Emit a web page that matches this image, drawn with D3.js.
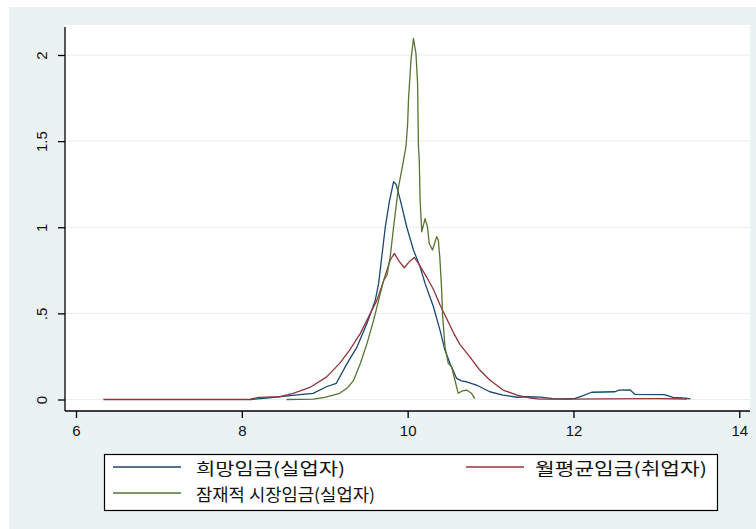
<!DOCTYPE html>
<html>
<head>
<meta charset="utf-8">
<script src="https://cdn.jsdelivr.net/npm/d3@7"></script>
<style>
  html, body { margin: 0; padding: 0; background: #ffffff; }
  svg { display: block; }
  .tick-label { font-family: "Liberation Sans", Arial, sans-serif; font-size: 15px; fill: #111; }
  .legend-label { font-family: "Noto Sans CJK KR", "Noto Sans", sans-serif; font-size: 17px; fill: #111; }
</style>
</head>
<body>
<svg id="chart" width="756" height="529"></svg>
<script>
// Kernel density of log wages, three groups
const seriesNames = ["희망임금(실업자)", "월평균임금(취업자)", "잠재적 시장임금(실업자)"];
const seriesColors = ["#1a476f", "#90353b", "#55752f"];
const labelWidths = [149, 172, 179];

// 희망임금(실업자)
const desiredX = [8.10, 8.30, 8.50, 8.70, 8.86, 9.02, 9.14, 9.27, 9.39, 9.51, 9.61, 9.65, 9.73, 9.78, 9.83,
  9.86, 9.91, 9.99, 10.07, 10.15, 10.21, 10.31, 10.39, 10.45, 10.51, 10.59, 10.65, 10.71, 10.83, 10.99,
  11.15, 11.32, 11.45, 11.60, 11.75, 11.90, 12.02, 12.10, 12.22, 12.50, 12.55, 12.68, 12.74, 13.10,
  13.20, 13.35, 13.41];
const desiredY = [0.000, 0.008, 0.018, 0.028, 0.036, 0.074, 0.094, 0.210, 0.306, 0.442, 0.577, 0.674, 1.000, 1.150, 1.264,
  1.250, 1.160, 1.000, 0.868, 0.770, 0.674, 0.540, 0.403, 0.287, 0.210, 0.123, 0.108, 0.103, 0.084, 0.045,
  0.026, 0.013, 0.016, 0.014, 0.005, 0.003, 0.007, 0.020, 0.042, 0.045, 0.055, 0.056, 0.030, 0.028,
  0.012, 0.008, 0.004];

// 월평균임금(취업자)
const earnedX = [6.33, 8.10, 8.20, 8.46, 8.62, 8.82, 9.02, 9.18, 9.30, 9.43, 9.55, 9.63, 9.71, 9.79, 9.84,
  9.90, 9.96, 10.02, 10.08, 10.13, 10.23, 10.31, 10.39, 10.47, 10.55, 10.63, 10.75, 10.87, 10.99, 11.15,
  11.32, 11.48, 11.60, 12.00, 12.30, 13.00, 13.37];
const earnedY = [0.000, 0.000, 0.012, 0.016, 0.036, 0.070, 0.130, 0.210, 0.287, 0.384, 0.500, 0.577, 0.690, 0.810, 0.848,
  0.800, 0.765, 0.800, 0.825, 0.790, 0.710, 0.640, 0.550, 0.470, 0.390, 0.320, 0.248, 0.171, 0.113, 0.055,
  0.026, 0.008, 0.002, 0.002, 0.004, 0.005, 0.003];

// 잠재적 시장임금(실업자)
const marketX = [8.54, 8.86, 9.00, 9.18, 9.28, 9.35, 9.43, 9.51, 9.59, 9.65, 9.71, 9.75, 9.79, 9.83, 9.89,
  9.94, 9.98, 10.00, 10.01, 10.04, 10.07, 10.10, 10.12, 10.13, 10.14, 10.15, 10.17, 10.21, 10.24, 10.26,
  10.30, 10.35, 10.37, 10.39, 10.41, 10.42, 10.45, 10.49, 10.53, 10.57, 10.61, 10.66, 10.71, 10.77, 10.81];
const marketY = [0.000, 0.002, 0.012, 0.036, 0.070, 0.113, 0.210, 0.326, 0.461, 0.577, 0.690, 0.720, 0.830, 1.000, 1.235,
  1.360, 1.470, 1.600, 1.740, 1.970, 2.096, 2.010, 1.835, 1.470, 1.390, 1.160, 0.974, 1.050, 1.000, 0.906,
  0.868, 0.945, 0.926, 0.810, 0.635, 0.500, 0.306, 0.210, 0.190, 0.113, 0.036, 0.050, 0.055, 0.036, 0.005];

const xTicks = [6, 8, 10, 12, 14];
const yTicks = [0, 0.5, 1, 1.5, 2];
const yTickLabels = ["0", ".5", "1", "1.5", "2"];

const seriesX = [desiredX, earnedX, marketX];
const seriesY = [desiredY, earnedY, marketY];

const svg = d3.select("#chart");

// graph region and plot region
const plotLeft = 65, plotRight = 750, plotTop = 25, plotBottom = 411;
svg.append("rect").attr("x", 9).attr("y", 7).attr("width", 747).attr("height", 522).attr("fill", "#eaf2f3");
svg.append("rect").attr("x", plotLeft).attr("y", plotTop)
  .attr("width", plotRight - plotLeft).attr("height", plotBottom - plotTop).attr("fill", "#ffffff");

const x = d3.scaleLinear().domain([6, 14]).range([76, 739.3]);
const y = d3.scaleLinear().domain([0, 2]).range([399.5, 55]);

// horizontal grid lines
svg.append("g").selectAll("line").data(yTicks).join("line")
  .attr("x1", plotLeft + 1).attr("x2", plotRight)
  .attr("y1", d => y(d)).attr("y2", d => y(d))
  .attr("stroke", "#e6eef0").attr("stroke-width", 1);

// y axis
const yAxis = d3.axisLeft(y).tickValues(yTicks).tickSize(7).tickPadding(0).tickFormat((d, i) => yTickLabels[i]);
const gy = svg.append("g").attr("transform", `translate(${plotLeft},0)`).call(yAxis);
gy.select(".domain").attr("d", `M0,${plotTop + 2}V${plotBottom}`).attr("stroke", "#000").attr("stroke-width", 1.3);
gy.selectAll(".tick line").attr("stroke", "#000").attr("stroke-width", 1.3);
gy.selectAll(".tick text")
  .attr("class", "tick-label")
  .attr("x", 0).attr("dy", 0)
  .attr("text-anchor", "middle")
  .attr("transform", "translate(-24,0) rotate(-90)")
  .attr("dominant-baseline", "central");

// x axis
const xAxis = d3.axisBottom(x).tickValues(xTicks).tickSize(7).tickPadding(4).tickFormat(d3.format("d"));
const gx = svg.append("g").attr("transform", `translate(0,${plotBottom})`).call(xAxis);
gx.select(".domain").attr("d", `M${plotLeft},0H${plotRight}`).attr("stroke", "#000").attr("stroke-width", 1.3);
gx.selectAll(".tick line").attr("stroke", "#000").attr("stroke-width", 1.3);
gx.selectAll(".tick text").attr("class", "tick-label").attr("dy", "0.95em");

// density curves
const line = d3.line().x(d => x(d[0])).y(d => y(d[1]));
seriesX.forEach((xs, i) => {
  const pts = xs.map((v, j) => [v, seriesY[i][j]]);
  svg.append("path").datum(pts)
    .attr("d", line)
    .attr("fill", "none")
    .attr("stroke", seriesColors[i])
    .attr("stroke-width", 1.3)
    .attr("stroke-linejoin", "round");
});

// legend
const legend = svg.append("g");
legend.append("rect").attr("x", 104.5).attr("y", 454.5).attr("width", 613).attr("height", 56)
  .attr("fill", "#ffffff").attr("stroke", "#000").attr("stroke-width", 1.2);
const legendItems = [
  { col: 0, row: 0 }, { col: 1, row: 0 }, { col: 0, row: 1 }
];
const colLine = [[113, 181], [466, 524]];
const colText = [196, 535];
const rowY = [467, 493];
legendItems.forEach((p, i) => {
  legend.append("line")
    .attr("x1", colLine[p.col][0]).attr("x2", colLine[p.col][1])
    .attr("y1", rowY[p.row]).attr("y2", rowY[p.row])
    .attr("stroke", seriesColors[i]).attr("stroke-width", 1.3);
  legend.append("text").attr("class", "legend-label")
    .attr("x", colText[p.col]).attr("y", rowY[p.row])
    .attr("dominant-baseline", "central")
    .attr("textLength", labelWidths[i])
    .attr("lengthAdjust", "spacingAndGlyphs")
    .text(seriesNames[i]);
});
</script>
</body>
</html>
